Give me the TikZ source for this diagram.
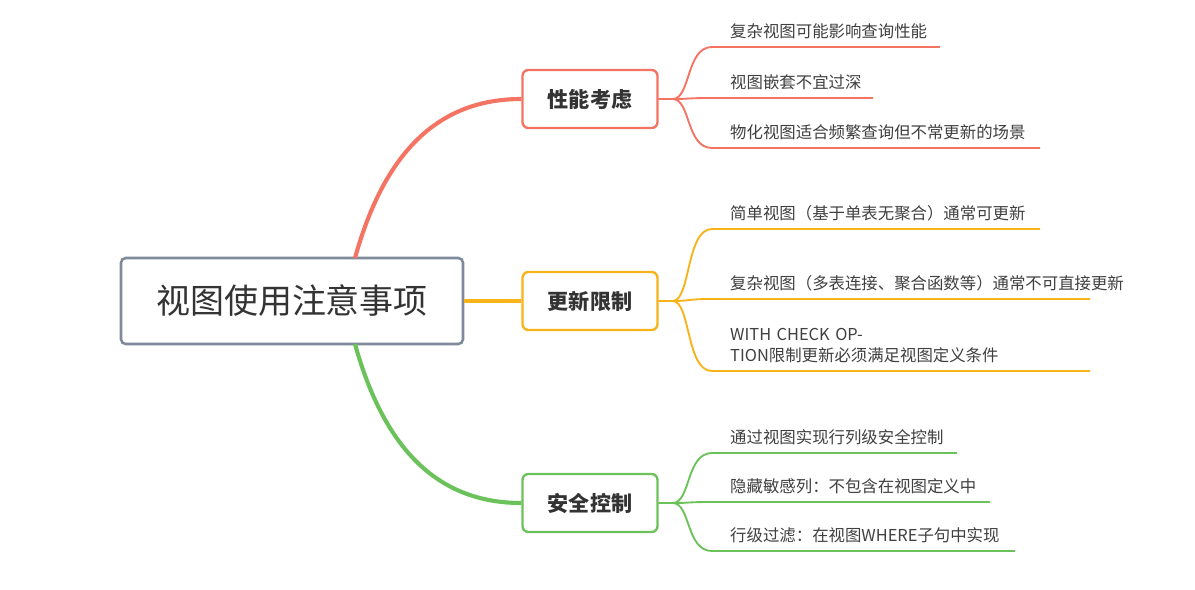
\documentclass[tikz,border=0pt]{standalone}
\usepackage{fontspec}
\setmainfont{Noto Sans CJK SC}
\usetikzlibrary{calc}
\definecolor{rootgray}{HTML}{7F8A9A}
\definecolor{perfred}{HTML}{F57363}
\definecolor{updorange}{HTML}{F9B31A}
\definecolor{secgreen}{HTML}{6CC25A}
\tikzset{
  rootbox/.style={draw=rootgray,line width=2.2pt,rounded corners=4pt,minimum width=342*0.03cm,minimum height=86*0.03cm,font=\fontsize{29}{33}\selectfont,text=black!80},
  branchbox/.style={draw=#1,line width=2pt,rounded corners=5pt,minimum width=135*0.03cm,minimum height=58*0.03cm,font=\fontsize{18}{21}\selectfont\bfseries,text=black!80},
  leaftext/.style={anchor=south west,font=\fontsize{14}{17.5}\selectfont,text=black!75,align=left,inner sep=0pt},
  leafline/.style={draw=#1,line width=1.6pt},
}
\begin{document}
\begin{tikzpicture}[x=0.03cm,y=-0.03cm]
  \useasboundingbox[fill=white] (0,0) rectangle (1195,590);

  %% 根节点与分支
  \node[rootbox] (root) at (292,301) {视图使用注意事项};
  \node[branchbox=perfred] (perf) at (590,99) {性能考虑};
  \node[branchbox=updorange] (upd) at (590,301) {更新限制};
  \node[branchbox=secgreen] (sec) at (590,503) {安全控制};

  \coordinate (rtop) at (355,258);
  \coordinate (rbot) at (355,344);
  \draw[perfred,line width=3.5pt] (rtop) .. controls (385,150) and (440,99) .. (perf.west);
  \draw[updorange,line width=3pt] (root.east) -- (upd.west);
  \draw[secgreen,line width=3.5pt] (rbot) .. controls (385,452) and (440,503) .. (sec.west);

  %% 叶节点: 文字, 下划线
  \node[leaftext] (p1) at (730,39) {复杂视图可能影响查询性能};
  \node[leaftext] (p2) at (730,90) {视图嵌套不宜过深};
  \node[leaftext] (p3) at (730,140) {物化视图适合频繁查询但不常更新的场景};
  \node[leaftext] (u1) at (730,221) {简单视图（基于单表无聚合）通常可更新};
  \node[leaftext,text width=352*0.03cm] (u2) at (730,291) {复杂视图（多表连接、聚合函数等）通常不可直接更新};
  \node[leaftext,text width=352*0.03cm] (u3) at (730,363) {WITH CHECK OPTION限制更新必须满足视图定义条件};
  \node[leaftext] (s1) at (730,445) {通过视图实现行列级安全控制};
  \node[leaftext] (s2) at (730,494) {隐藏敏感列：不包含在视图定义中};
  \node[leaftext] (s3) at (730,543) {行级过滤：在视图WHERE子句中实现};

  \coordinate (p1s) at (712,47);  \coordinate (p1e) at (940,47);
  \coordinate (p2s) at (712,98);  \coordinate (p2e) at (873,98);
  \coordinate (p3s) at (712,148); \coordinate (p3e) at (1040,148);
  \coordinate (u1s) at (712,229); \coordinate (u1e) at (1040,229);
  \coordinate (u2s) at (712,299); \coordinate (u2e) at (1090,299);
  \coordinate (u3s) at (712,371); \coordinate (u3e) at (1090,371);
  \coordinate (s1s) at (712,453); \coordinate (s1e) at (957,453);
  \coordinate (s2s) at (712,502); \coordinate (s2e) at (990,502);
  \coordinate (s3s) at (712,551); \coordinate (s3e) at (1015,551);

  \foreach \b/\c/\l in {perf/perfred/p, upd/updorange/u, sec/secgreen/s}{
    \foreach \i in {1,2,3}{
      \draw[leafline=\c] (\b.east) -- ($(\b.east)+(14,0)$)
        .. controls ($(\b.east)+(32,0)$) and ($(\l\i s)+(-26,0)$) .. (\l\i s) -- (\l\i e);
    }
  }
\end{tikzpicture}
\end{document}
